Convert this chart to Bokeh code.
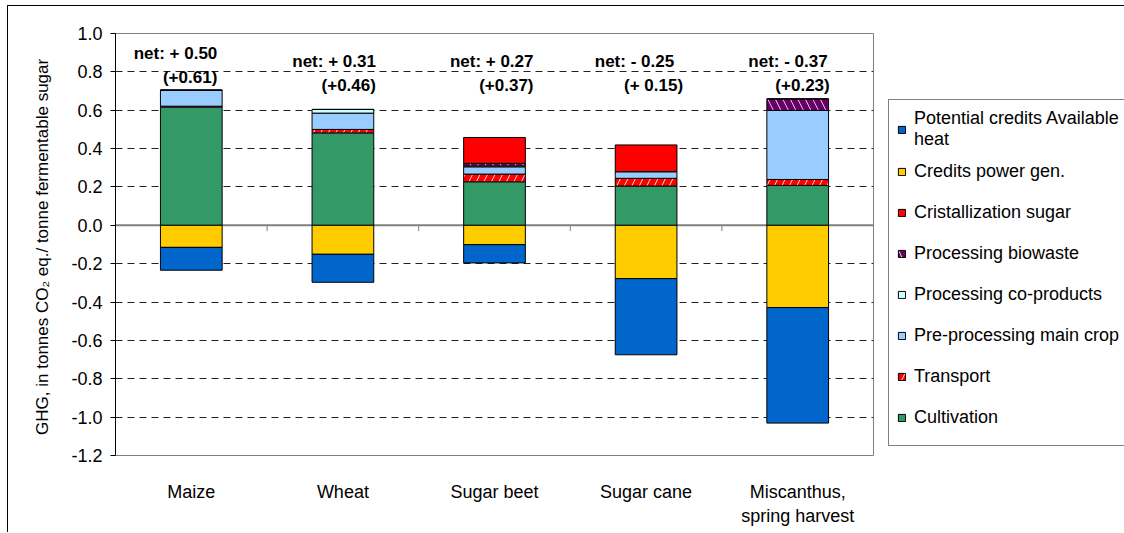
import numpy as np
from bokeh.plotting import figure
from bokeh.models import (ColumnDataSource, Range1d, Span, Legend, LegendItem,
                          FixedTicker, NumeralTickFormatter)
from bokeh.core.properties import value
from bokeh.embed import file_html
from bokeh.resources import INLINE

# ---------------- data ----------------
categories = ["Maize", "Wheat", "Sugar beet", "Sugar cane", "Miscanthus,\nspring harvest"]
cultivation = [0.616, 0.482, 0.227, 0.205, 0.208]
transport = [0.005, 0.018, 0.040, 0.040, 0.031]
preprocessing_main = [0.083, 0.085, 0.038, 0.035, 0.360]
processing_coproducts = [0.000, 0.019, 0.005, 0.000, 0.000]
processing_biowaste = [0.000, 0.000, 0.013, 0.000, 0.060]
cristallization_sugar = [0.000, 0.000, 0.135, 0.139, 0.000]
credits_power = [-0.115, -0.151, -0.101, -0.278, -0.429]
credits_heat = [-0.119, -0.146, -0.095, -0.397, -0.602]
net_labels = ["net: + 0.50", "net: + 0.31", "net: + 0.27", "net: - 0.25", "net: - 0.37"]
gross_labels = ["(+0.61)", "(+0.46)", "(+0.37)", "(+ 0.15)", "(+0.23)"]
y_ticks = [-1.2, -1.0, -0.8, -0.6, -0.4, -0.2, 0.0, 0.2, 0.4, 0.6, 0.8, 1.0]
y_label = "GHG, in  tonnes CO\u2082 eq./ tonne fermentable sugar"

# ---------------- styles ----------------
FONT = "Liberation Sans"
positive_series = [
    ("Cultivation", cultivation, "#339966", None, None),
    ("Transport", transport, "#FFFFFF", "/", "#FF0000"),
    ("Pre-processing main crop", preprocessing_main, "#99CCFF", None, None),
    ("Processing co-products", processing_coproducts, "#CCFFFF", None, None),
    ("Processing biowaste", processing_biowaste, "#FFFFFF", "\\", "#660066"),
    ("Cristallization sugar", cristallization_sugar, "#FF0000", None, None),
]
negative_series = [
    ("Credits power gen.", credits_power, "#FFCC00", None, None),
    ("Potential credits Available\nheat", credits_heat, "#0066CC", None, None),
]
legend_order = ["Potential credits Available\nheat", "Credits power gen.", "Cristallization sugar",
                "Processing biowaste", "Processing co-products", "Pre-processing main crop",
                "Transport", "Cultivation"]
label_dx1 = [26, 33, 39, 28, 30]
label_dx2 = [26, 33, 39, 37, 32]
label_dy = [-8, 0, 0, 0, 0]
BAR_W = 0.407

n = len(categories)
xc = np.arange(n) + 0.5

p = figure(frame_width=758, frame_height=422, output_backend="svg", toolbar_location=None,
           x_range=Range1d(0, n), y_range=Range1d(y_ticks[0], y_ticks[-1]),
           min_border_left=107, min_border_right=250, min_border_top=27, min_border_bottom=77)
p.styles = {"border-left": "1px solid black", "border-top": "1px solid black",
            "margin-left": "7px", "margin-top": "5px"}
p.outline_line_color = "#808080"
p.outline_line_width = 1
p.background_fill_color = "white"
p.border_fill_color = "white"

# grid
p.xgrid.visible = False
p.ygrid.ticker = FixedTicker(ticks=[t for t in y_ticks if t not in (0.0, y_ticks[0], y_ticks[-1])])
p.ygrid.grid_line_color = "#222222"
p.ygrid.grid_line_dash = "7 5"
p.ygrid.grid_line_width = 1

# zero line
p.add_layout(Span(location=0, dimension="width", line_color="#808080", line_width=2, level="underlay"))

renderers = {}

def draw_stack(series):
    base = np.zeros(n)
    for name, vals, fill, hatch, hcolor in series:
        v = np.array(vals, dtype=float)
        src = ColumnDataSource(dict(x=xc, bottom=base.copy(), top=base + v))
        kw = {}
        if hatch:
            kw = dict(hatch_pattern=hatch, hatch_color=hcolor, hatch_scale=15, hatch_weight=6)
        r = p.vbar(x="x", bottom="bottom", top="top", width=BAR_W, source=src,
                   fill_color=fill, line_color="black", line_width=1, **kw)
        renderers[name] = r
        base = base + v

draw_stack(positive_series)
draw_stack(negative_series)

# category boundary ticks on the zero line
bnd = np.arange(1, n)
p.segment(x0=bnd, x1=bnd, y0=np.zeros(n - 1), y1=np.full(n - 1, -0.03),
          line_color="#808080", line_width=1)

# net labels
p.text(x=xc, y=np.full(n, 0.856), text=net_labels, x_offset=label_dx1, y_offset=label_dy,
       text_align="right", text_baseline="middle", text_font=value(FONT),
       text_font_style="bold", text_font_size="17px", text_color="black")
p.text(x=xc, y=np.full(n, 0.727), text=gross_labels, x_offset=label_dx2, y_offset=label_dy,
       text_align="right", text_baseline="middle", text_font=value(FONT),
       text_font_style="bold", text_font_size="17px", text_color="black")

# axes
yax = p.yaxis[0]
yax.ticker = FixedTicker(ticks=y_ticks)
yax.formatter = NumeralTickFormatter(format="0.0")
yax.axis_line_color = "black"
yax.major_tick_line_color = "black"
yax.major_tick_out = 5
yax.major_tick_in = 0
yax.minor_tick_line_color = None
yax.major_label_text_font = FONT
yax.major_label_text_font_size = "18px"
yax.major_label_text_color = "black"
yax.major_label_standoff = 8
yax.axis_label = y_label
yax.axis_label_text_font = FONT
yax.axis_label_text_font_size = "17px"
yax.axis_label_text_font_style = "normal"
yax.axis_label_text_color = "black"
yax.axis_label_standoff = 16

xax = p.xaxis[0]
xax.ticker = FixedTicker(ticks=list(xc))
xax.major_label_overrides = {float(x): c for x, c in zip(xc, categories)}
xax.axis_line_color = None
xax.major_tick_line_color = None
xax.minor_tick_line_color = None
xax.major_label_standoff = 20
xax.major_label_text_font = FONT
xax.major_label_text_font_size = "18px"
xax.major_label_text_color = "black"

legend = Legend(items=[LegendItem(label=nm, renderers=[renderers[nm]]) for nm in legend_order],
                location=(15, 9))
legend.label_text_font = FONT
legend.label_text_font_size = "18px"
legend.label_text_color = "black"
legend.glyph_width = 9
legend.glyph_height = 9
legend.label_standoff = 8
legend.label_height = 40
legend.spacing = 1
legend.padding = 8
legend.margin = 0
legend.border_line_color = "black"
legend.border_line_width = 1
legend.background_fill_color = "white"
legend.background_fill_alpha = 1
p.add_layout(legend, "right")

open("out.html", "w").write(file_html(p, INLINE))
